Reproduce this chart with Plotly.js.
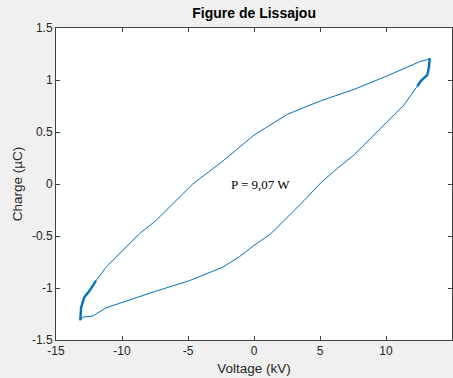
<!DOCTYPE html>
<html>
<head>
<meta charset="utf-8">
<script src="https://cdn.plot.ly/plotly-3.0.1.min.js"></script>
<style>html,body{margin:0;padding:0;background:#f0f0f0;}#chart{width:453px;height:378px;}</style>
</head>
<body>
<div id="chart"></div>
<script>
// Loop: bottom-left tip -> upper branch -> top-right tip -> lower branch -> back
const voltage = [-13.16,-13.10,-12.86,-12.48,-11.97,-11.21,-9.95,-8.69,-7.42,-6.16,-4.64,-2.37,0.00,2.53,5.05,7.58,10.10,12.63,13.13,13.31,
                 13.25,13.13,12.63,12.37,11.36,10.10,8.84,7.58,6.31,5.05,3.79,2.53,1.26,0.00,-1.11,-2.37,-4.90,-7.42,-9.95,-11.20,-12.22,-12.98,-13.16];
const charge  = [-1.31,-1.19,-1.09,-1.03,-0.93,-0.80,-0.64,-0.48,-0.35,-0.19,0.00,0.22,0.47,0.67,0.80,0.91,1.04,1.18,1.195,1.21,
                 1.12,1.05,0.99,0.94,0.76,0.60,0.44,0.28,0.15,0.01,-0.16,-0.32,-0.48,-0.59,-0.70,-0.80,-0.93,-1.03,-1.14,-1.19,-1.27,-1.28,-1.31];
// index ranges where the trace is dense (drawn thicker)
const denseSegments = [[0,5],[19,24]];
const xTicks = [-15,-10,-5,0,5,10,15];
const xTickText = ["-15","-10","-5","0","5","10","15"];
const yTicks = [-1.5,-1,-0.5,0,0.5,1,1.5];
const yTickText = ["-1.5","-1","-0.5","0","0.5","1","1.5"];
const annotX = -1.9, annotY = 0.0, annotText = "P = 9,07 W";

const blue = '#0072BD';
const traces = [{x: voltage, y: charge, type: 'scatter', mode: 'lines', line: {color: blue, width: 1}, hoverinfo: 'skip'}];
denseSegments.forEach(s => {
  traces.push({x: voltage.slice(s[0], s[1]), y: charge.slice(s[0], s[1]), type: 'scatter', mode: 'lines',
    line: {color: blue, width: 2.4}, hoverinfo: 'skip'});
});

const font = 'Arial, Liberation Sans, sans-serif';
const axisCommon = {
  showgrid: false, zeroline: false, showline: true, mirror: 'ticks', linecolor: '#404040', linewidth: 1,
  ticks: 'inside', ticklen: 4, tickcolor: '#404040', tickfont: {family: font, size: 12, color: '#262626'}
};
const layout = {
  width: 453, height: 378, showlegend: false,
  paper_bgcolor: '#f0f0f0', plot_bgcolor: '#ffffff',
  margin: {l: 56, r: 1, t: 28, b: 38},
  title: {text: '<b>Figure de Lissajou</b>', x: 0.561, xanchor: 'center', y: 0.966, yanchor: 'middle', yref: 'container',
          font: {family: font, size: 14, color: '#000'}},
  xaxis: Object.assign({}, axisCommon, {range: [-15, 15], tickmode: 'array', tickvals: xTicks, ticktext: xTickText,
    title: {text: 'Voltage (kV)', standoff: 6, font: {family: font, size: 13.5, color: '#262626'}}}),
  yaxis: Object.assign({}, axisCommon, {range: [-1.5, 1.5], tickmode: 'array', tickvals: yTicks, ticktext: yTickText,
    title: {text: 'Charge (µC)', standoff: 6, font: {family: font, size: 13.5, color: '#262626'}}}),
  annotations: [{x: annotX, y: annotY, xref: 'x', yref: 'y', text: annotText, showarrow: false, xanchor: 'left', yanchor: 'middle',
    font: {family: 'Liberation Serif, Times New Roman, serif', size: 13, color: '#000'}}]
};
Plotly.newPlot('chart', traces, layout, {displayModeBar: false, staticPlot: true});
</script>
</body>
</html>
